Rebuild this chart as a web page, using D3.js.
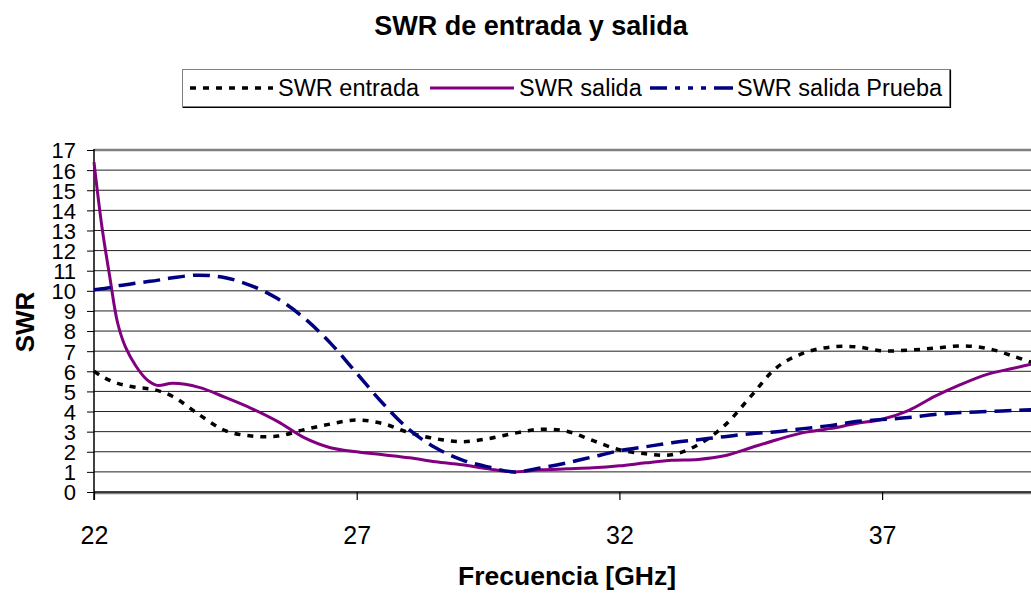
<!DOCTYPE html>
<html>
<head>
<meta charset="utf-8">
<script src="https://cdn.jsdelivr.net/npm/d3@7/dist/d3.min.js"></script>
<style>
  html, body { margin: 0; padding: 0; background: #fff; }
  svg { display: block; font-family: "Liberation Sans", Arial, sans-serif; }
</style>
</head>
<body>
<svg id="chart" width="1031" height="595"></svg>
<script>
// Frequency samples (GHz)
const freq = [22, 22.15, 22.3, 22.45, 22.6, 22.8, 23, 23.2, 23.5, 24, 24.5, 25, 25.5, 26, 26.5, 27, 27.5, 28,
  28.5, 29, 29.5, 30, 30.5, 31, 31.5, 32, 32.5, 33, 33.5, 34, 34.5, 35, 35.5, 36, 36.5, 37, 37.5, 38,
  38.5, 39, 39.5, 40];

// Input SWR
const swrEntrada = [6.0, 5.75, 5.55, 5.4, 5.3, 5.2, 5.15, 5.05, 4.75, 3.85, 3.05, 2.78, 2.78, 3.1, 3.38, 3.58,
  3.4, 2.95, 2.65, 2.5, 2.65, 2.92, 3.12, 3.02, 2.55, 2.1, 1.9, 1.85, 2.35, 3.3, 4.75, 6.2, 6.9, 7.2,
  7.22, 7.02, 7.05, 7.15, 7.26, 7.14, 6.75, 6.3];

// Output SWR
const swrSalida = [16.4, 13.2, 10.7, 8.4, 7.2, 6.25, 5.6, 5.3, 5.4, 5.2, 4.7, 4.15, 3.5, 2.7, 2.2, 2.0,
  1.85, 1.7, 1.5, 1.35, 1.15, 1.0, 1.1, 1.15, 1.2, 1.3, 1.45, 1.58, 1.62, 1.8, 2.2, 2.6, 2.95, 3.15,
  3.4, 3.62, 4.05, 4.75, 5.35, 5.85, 6.15, 6.45];

// Output SWR, test run
const swrPrueba = [10.05, 10.1, 10.15, 10.25, 10.3, 10.38, 10.45, 10.52, 10.65, 10.78, 10.65, 10.25, 9.6,
  8.65, 7.4, 5.9, 4.4, 3.1, 2.2, 1.6, 1.25, 1.0, 1.2, 1.45, 1.75, 2.05, 2.25, 2.45, 2.6, 2.75, 2.9, 3.0,
  3.15, 3.3, 3.5, 3.6, 3.7, 3.85, 3.95, 4.0, 4.05, 4.1];

const xTicks = [22, 27, 32, 37];
const yTicks = d3.range(0, 18);

const seriesNames = ["SWR entrada", "SWR salida", "SWR salida Prueba"];
const seriesValues = [swrEntrada, swrSalida, swrPrueba];
const seriesStyle = [
  { color: "#000000", width: 3.5, dash: "6,7", legendDash: "6,7" },
  { color: "#800080", width: 3, dash: null, legendDash: null },
  { color: "#000080", width: 3.5, dash: "17,8", legendDash: "17,8,5,8,5,8,5,8,20" }
];

const svg = d3.select("#chart");
const plot = { left: 94, top: 150, bottom: 492 };

const x = d3.scaleLinear().domain([22, 40]).range([plot.left, plot.left + 18 * 52.54]);
const y = d3.scaleLinear().domain([0, 17]).range([plot.bottom, plot.top]);

// Title
svg.append("text")
  .attr("x", 531).attr("y", 35)
  .attr("text-anchor", "middle")
  .attr("font-size", 27).attr("font-weight", "bold")
  .text("SWR de entrada y salida");

// Horizontal grid lines
svg.append("g")
  .selectAll("line")
  .data(yTicks.filter(d => d > 0 && d < 17))
  .join("line")
  .attr("x1", plot.left).attr("x2", x(40))
  .attr("y1", d => y(d)).attr("y2", d => y(d))
  .attr("stroke", "#222").attr("stroke-width", 1);

// Plot area border
svg.append("line")
  .attr("x1", plot.left).attr("x2", x(40))
  .attr("y1", y(17)).attr("y2", y(17))
  .attr("stroke", "#808080").attr("stroke-width", 2.5);
svg.append("line")
  .attr("x1", plot.left).attr("x2", x(40))
  .attr("y1", plot.bottom + 1.5).attr("y2", plot.bottom + 1.5)
  .attr("stroke", "#808080").attr("stroke-width", 1.5);

// Y axis
const yAxis = d3.axisLeft(y).tickValues(yTicks).tickSize(7).tickPadding(11).tickFormat(d3.format("d"));
const gy = svg.append("g").attr("transform", `translate(${plot.left},0)`).call(yAxis);
gy.select(".domain").remove();
gy.selectAll(".tick line").attr("stroke", "#000");
gy.selectAll(".tick text")
  .attr("font-family", "'Liberation Sans', Arial, sans-serif")
  .attr("font-size", 22).attr("fill", "#000").attr("dy", "0.36em");
svg.append("line")
  .attr("x1", plot.left).attr("x2", plot.left)
  .attr("y1", plot.top - 1).attr("y2", plot.bottom + 8)
  .attr("stroke", "#000").attr("stroke-width", 1.5);

// X axis
const xAxis = d3.axisBottom(x).tickValues(xTicks).tickSize(8).tickPadding(26).tickFormat(d3.format("d"));
const gx = svg.append("g").attr("transform", `translate(0,${plot.bottom})`).call(xAxis);
gx.select(".domain").remove();
gx.selectAll(".tick line").attr("stroke", "#000").attr("stroke-width", 1.2);
gx.selectAll(".tick text")
  .attr("font-family", "'Liberation Sans', Arial, sans-serif")
  .attr("font-size", 25).attr("fill", "#000");
svg.append("line")
  .attr("x1", plot.left).attr("x2", x(40))
  .attr("y1", plot.bottom).attr("y2", plot.bottom)
  .attr("stroke", "#000").attr("stroke-width", 1.5);

// Axis titles
svg.append("text")
  .attr("x", 567).attr("y", 585)
  .attr("text-anchor", "middle")
  .attr("font-size", 26.5).attr("font-weight", "bold")
  .text("Frecuencia [GHz]");
svg.append("text")
  .attr("transform", "translate(34,322) rotate(-90)")
  .attr("text-anchor", "middle")
  .attr("font-size", 26).attr("font-weight", "bold")
  .text("SWR");

// Series lines
const line = d3.line()
  .x((d, i) => x(freq[i]))
  .y(d => y(d))
  .curve(d3.curveCatmullRom.alpha(0.5));

svg.append("g")
  .selectAll("path")
  .data(seriesValues)
  .join("path")
  .attr("d", d => line(d))
  .attr("fill", "none")
  .attr("stroke", (d, i) => seriesStyle[i].color)
  .attr("stroke-width", (d, i) => seriesStyle[i].width)
  .attr("stroke-dasharray", (d, i) => seriesStyle[i].dash)
  .attr("stroke-linejoin", "round");

// Legend
const legend = svg.append("g");
legend.append("rect")
  .attr("x", 182.5).attr("y", 69.5).attr("width", 767).attr("height", 37)
  .attr("fill", "#fff").attr("stroke", "#808080").attr("stroke-width", 1);
legend.append("polyline")
  .attr("points", "950.5,69.5 950.5,107.5 182.5,107.5")
  .attr("fill", "none").attr("stroke", "#000").attr("stroke-width", 1.2);

const legendItems = [
  { x1: 190, x2: 273, tx: 278 },
  { x1: 430, x2: 514, tx: 519 },
  { x1: 650, x2: 733, tx: 737 }
];
legendItems.forEach((it, i) => {
  const st = seriesStyle[i];
  legend.append("line")
    .attr("x1", it.x1).attr("x2", it.x2).attr("y1", 88).attr("y2", 88)
    .attr("stroke", st.color).attr("stroke-width", st.width)
    .attr("stroke-dasharray", st.legendDash);
  legend.append("text")
    .attr("x", it.tx).attr("y", 96)
    .attr("font-size", 23.5)
    .text(seriesNames[i]);
});
</script>
</body>
</html>
